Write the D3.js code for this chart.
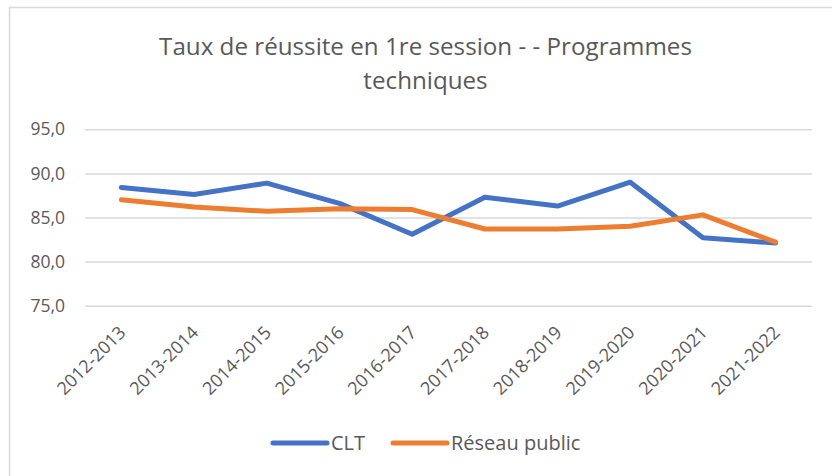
<!DOCTYPE html>
<html>
<head>
<meta charset="utf-8">
<script src="https://cdn.jsdelivr.net/npm/d3@7"></script>
<style>
	body { margin: 0; background: #fff; }
	text { font-family: "Open Sans", sans-serif; fill: #595959; }
</style>
</head>
<body>
<svg id="chart" width="832" height="476"></svg>
<script>
const YEARS = [
	'2012-2013', '2013-2014', '2014-2015', '2015-2016', '2016-2017',
	'2017-2018', '2018-2019', '2019-2020', '2020-2021', '2021-2022',
]
const CLT = [88.4, 87.6, 88.9, 86.6, 83.1, 87.3, 86.3, 89.0, 82.7, 82.1]
const RESEAU = [87.0, 86.2, 85.7, 86.0, 85.9, 83.7, 83.7, 84.0, 85.3, 82.2]
const Y_TICKS = [75, 80, 85, 90, 95]
const SERIES_NAMES = ['CLT', 'Réseau public']

const COLORS = ['#4472C4', '#ED7D31']
const GRID = '#D9D9D9'

const plotLeft = 85
const plotRight = 812
const plotTop = 129.3
const plotBottom = 305.7

let svg = d3.select('#chart')

// chart border (right and bottom edges fall outside the picture)
svg.append('rect')
	.attr('x', 9.5)
	.attr('y', 7.5)
	.attr('width', 840)
	.attr('height', 480)
	.attr('fill', '#fff')
	.attr('stroke', GRID)
	.attr('stroke-width', 1.5)

// title on two lines
let title = svg.append('text')
	.attr('text-anchor', 'middle')
	.style('font-size', '24.2px')
title.append('tspan')
	.attr('x', 425.5)
	.attr('y', 54.5)
	.text('Taux de réussite en 1re session - - Programmes')
title.append('tspan')
	.attr('x', 425.5)
	.attr('y', 88.5)
	.text('techniques')

let x = d3.scalePoint()
	.domain(YEARS)
	.range([plotLeft, plotRight])
	.padding(0.5)

let y = d3.scaleLinear()
	.domain([75, 95])
	.range([plotBottom, plotTop])

let fmt = d3.formatLocale({ decimal: ',', thousands: ' ', grouping: [3], currency: ['', ''] }).format('.1f')

// y axis with gridlines
let yAxis = svg.append('g')
	.attr('transform', `translate(${plotLeft},0)`)
	.call(d3.axisLeft(y).tickValues(Y_TICKS).tickSize(-(plotRight - plotLeft)).tickPadding(20).tickFormat(fmt))
yAxis.select('.domain').remove()
yAxis.selectAll('.tick line')
	.attr('stroke', GRID)
	.attr('stroke-width', 1.5)
yAxis.selectAll('.tick text')
	.style('font-size', '17.5px')
	.style('font-family', '"Open Sans", sans-serif')
	.attr('fill', '#595959')

// x axis, labels rotated
let xAxis = svg.append('g')
	.attr('transform', `translate(0,${plotBottom})`)
	.call(d3.axisBottom(x).tickSize(0))
xAxis.select('.domain').remove()
xAxis.selectAll('.tick text')
	.style('font-size', '18px')
	.style('font-family', '"Open Sans", sans-serif')
	.attr('fill', '#595959')
	.attr('text-anchor', 'end')
	.attr('y', 0)
	.attr('dy', 0)
	.attr('transform', 'translate(5,28) rotate(-45)')

let line = d3.line()
	.x((d, i) => x(YEARS[i]))
	.y(d => y(d))

;[CLT, RESEAU].forEach((values, k) => {
	svg.append('path')
		.datum(values)
		.attr('d', line)
		.attr('fill', 'none')
		.attr('stroke', COLORS[k])
		.attr('stroke-width', 5)
		.attr('stroke-linejoin', 'round')
		.attr('stroke-linecap', 'round')
})

// legend
let legendItems = [
	{ name: SERIES_NAMES[0], color: COLORS[0], x: 273 },
	{ name: SERIES_NAMES[1], color: COLORS[1], x: 393 },
]
let legend = svg.append('g')
	.attr('transform', 'translate(0,443)')
legendItems.forEach(item => {
	legend.append('line')
		.attr('x1', item.x)
		.attr('x2', item.x + 54)
		.attr('stroke', item.color)
		.attr('stroke-width', 5)
		.attr('stroke-linecap', 'round')
	legend.append('text')
		.attr('x', item.x + 58)
		.attr('y', 0)
		.attr('dy', '0.35em')
		.style('font-size', '20px')
		.text(item.name)
})
</script>
</body>
</html>
